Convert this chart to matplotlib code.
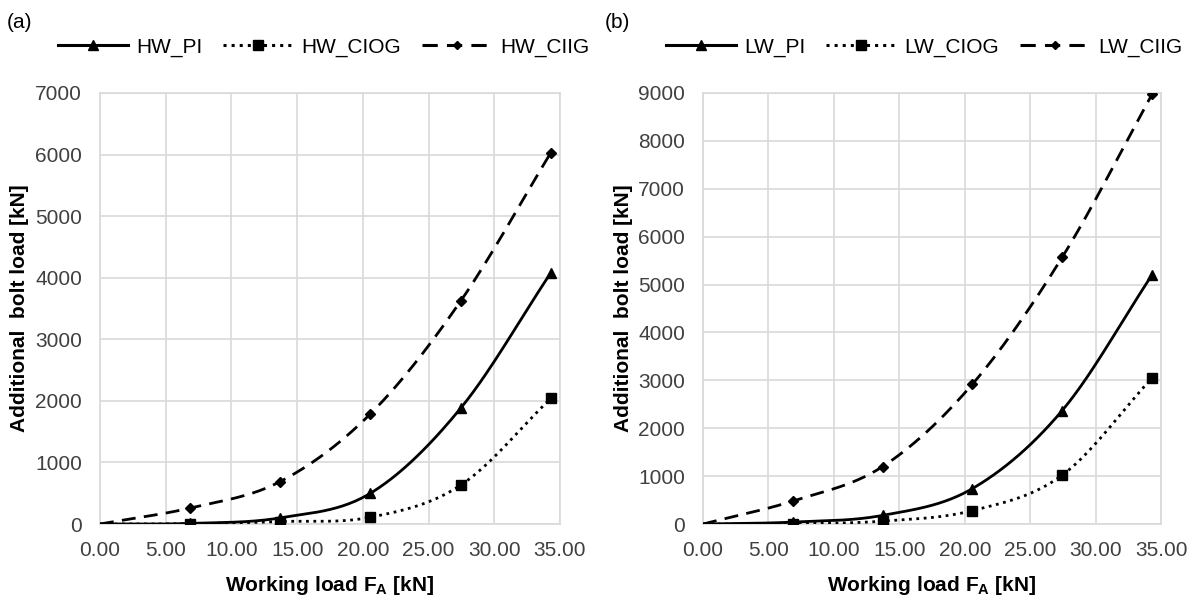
import numpy as np
import matplotlib
matplotlib.use("Agg")
from matplotlib import pyplot as plt

plt.rcParams['font.family'] = ['Liberation Sans', 'DejaVu Sans']

load = [0.0, 6.86, 13.72, 20.58, 27.44, 34.30]

hw_pi = [0, 10, 100, 500, 1880, 4080]
hw_ciog = [0, 5, 40, 110, 630, 2040]
hw_ciig = [0, 260, 690, 1790, 3620, 6030]

lw_pi = [0, 40, 180, 740, 2370, 5200]
lw_ciog = [0, 5, 60, 280, 1020, 3050]
lw_ciig = [0, 480, 1200, 2920, 5570, 8970]

xticks = np.arange(0, 36, 5)

def smooth(x, y, n=30):
    # catmull-rom style smoothing like excel's smoothed scatter
    x = np.asarray(x, float); y = np.asarray(y, float)
    px = np.concatenate([[2*x[0]-x[1]], x, [2*x[-1]-x[-2]]])
    py = np.concatenate([[2*y[0]-y[1]], y, [2*y[-1]-y[-2]]])
    xs, ys = [], []
    t = np.linspace(0, 1, n)
    for i in range(1, len(px)-2):
        p0, p1, p2, p3 = [np.array([px[j], py[j]]) for j in (i-1, i, i+1, i+2)]
        tt = t[:, None]
        pts = 0.5*((2*p1) + (-p0+p2)*tt + (2*p0-5*p1+4*p2-p3)*tt**2 + (-p0+3*p1-3*p2+p3)*tt**3)
        xs.extend(pts[:, 0]); ys.extend(pts[:, 1])
    return np.array(xs), np.array(ys)

styles = [('-', '^', 7.5), (':', 's', 7.5), ((0, (5, 3)), 'D', 5.5)]

fig = plt.figure(figsize=(11.93, 5.95), dpi=100)
ax1 = fig.add_axes([0.0838, 0.1193, 0.3856, 0.7244])
ax2 = fig.add_axes([0.5893, 0.1193, 0.3840, 0.7244])

panels = [
    (ax1, [hw_pi, hw_ciog, hw_ciig], ['HW_PI', 'HW_CIOG', 'HW_CIIG'], 7000, '(a)', 0.006, 58),
    (ax2, [lw_pi, lw_ciog, lw_ciig], ['LW_PI', 'LW_CIOG', 'LW_CIIG'], 9000, '(b)', 0.507, 666),
]

for ax, series, names, ymax, tag, tx, lx in panels:
    handles = []
    for vals, name, (ls, mk, ms) in zip(series, names, styles):
        sx, sy = smooth(load, vals)
        ax.plot(sx, sy, color='black', ls=ls, lw=2, zorder=3)
        ax.plot(load[1:], vals[1:], ls='none', marker=mk, ms=ms, color='black', zorder=4)
        h, = ax.plot([], [], color='black', ls=ls, lw=2.2, marker=mk, ms=ms - 1)
        handles.append(h)
    ax.set_xlim(0, 35)
    ax.set_ylim(0, ymax)
    ax.set_xticks(xticks)
    ax.set_xticklabels(['%.2f' % v for v in xticks])
    ax.set_yticks(np.arange(0, ymax + 1, 1000))
    ax.grid(True, color='#d9d9d9', lw=1.2)
    ax.set_axisbelow(True)
    for s in ax.spines.values():
        s.set_color('#d9d9d9')
        s.set_linewidth(1.2)
    ax.tick_params(length=0, labelsize=15, colors='#404040')
    ax.tick_params(axis='x', pad=12)
    ax.tick_params(axis='y', pad=13)
    ax.set_xlabel('Working load F$_\\mathregular{A}$ [kN]', fontsize=15, fontweight='bold', labelpad=10)
    ax.set_ylabel('Additional  bolt load [kN]', fontsize=15, fontweight='bold', labelpad=4)
    fig.legend(handles=handles, labels=names, loc='center left',
               bbox_to_anchor=(lx / 1193, 1 - 47 / 595), ncol=3, frameon=False,
               fontsize=15, handlelength=3.35, columnspacing=1.0, handletextpad=0.4,
               borderpad=0, borderaxespad=0)
    fig.text(tx, 1 - 22 / 595, tag, fontsize=15, va='center')

fig.savefig('out.png', dpi=100)
